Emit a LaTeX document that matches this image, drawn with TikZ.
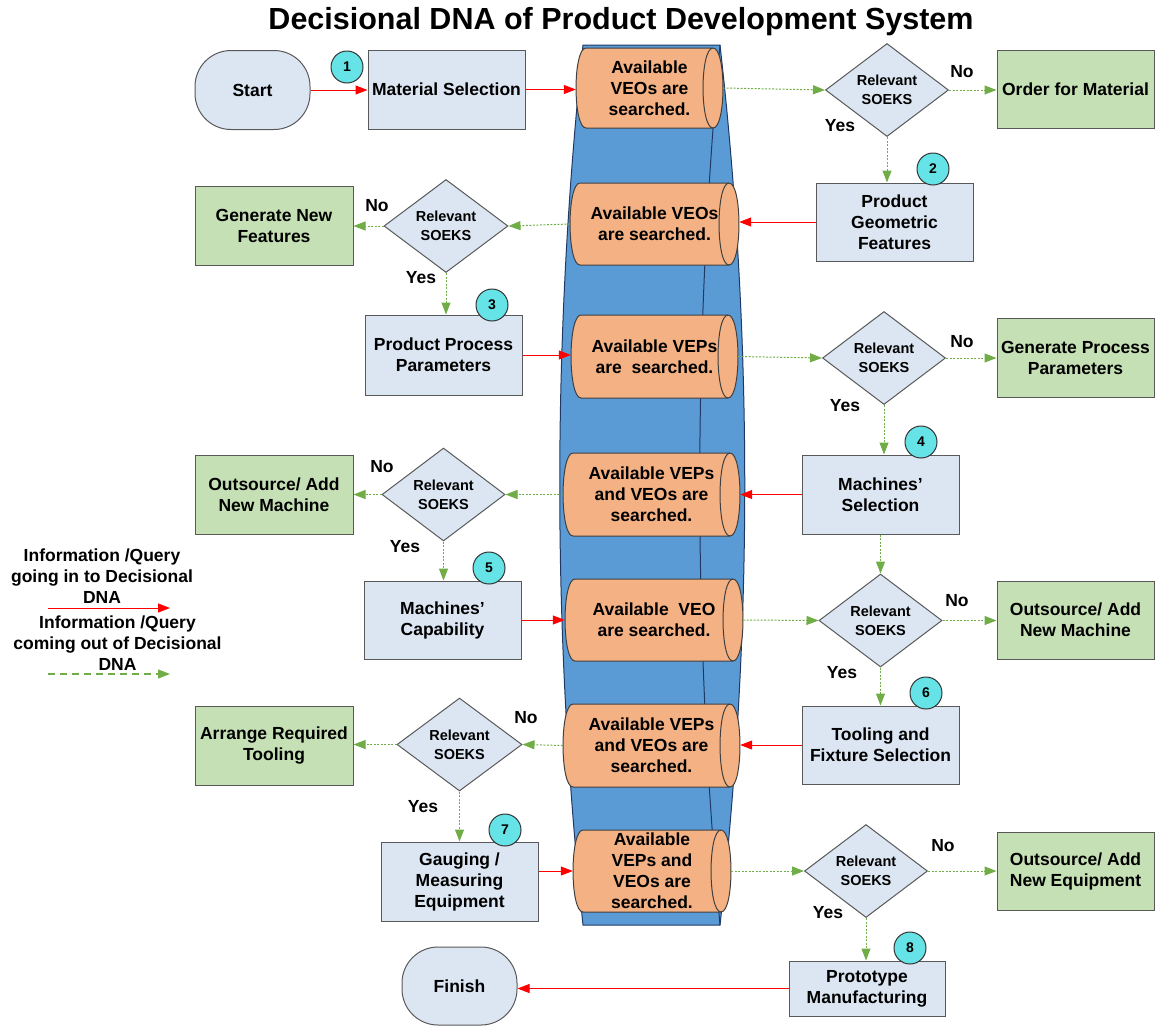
\documentclass[tikz,border=0pt]{standalone}
\usepackage{fontspec}
\setmainfont{Liberation Sans}
\usetikzlibrary{shapes.geometric,arrows.meta}
\definecolor{boxblue}{HTML}{DCE6F2}
\definecolor{boxgreen}{HTML}{C5E0B4}
\definecolor{edgegray}{HTML}{595959}
\definecolor{cylorange}{HTML}{F4B183}
\definecolor{bandblue}{HTML}{5B9BD5}
\definecolor{bandnavy}{HTML}{1F3864}
\definecolor{numcyan}{HTML}{66E3E6}
\definecolor{arrowgreen}{HTML}{70AD47}
\definecolor{arrowred}{HTML}{FF0000}
\newcommand{\fntlbl}{\fontsize{17.5}{21}\selectfont\bfseries}
\newcommand{\fntdia}{\fontsize{14.5}{19}\selectfont\bfseries}
\newcommand{\fntnum}{\fontsize{14}{16}\selectfont\bfseries}
\tikzset{
 pbox/.style={draw=edgegray, fill=boxblue, line width=1pt, minimum width=157pt, minimum height=79pt, align=center, font=\fntlbl, inner sep=1pt},
 gbox/.style={pbox, fill=boxgreen},
 stadium/.style={draw=edgegray, fill=boxblue, line width=1pt, rounded corners=36pt, minimum width=115pt, minimum height=79pt, font=\fntlbl},
 decision/.style={diamond, aspect=1.3, draw=edgegray, fill=boxblue, line width=1pt, minimum width=123pt, minimum height=93pt, inner sep=0pt, align=center, font=\fntdia},
 numdot/.style={circle, draw=black!80, fill=numcyan, line width=1pt, minimum size=32pt, inner sep=0pt, font=\fntnum},
 cylshape/.style={draw=black!75, fill=cylorange, line width=1pt},
 cyltext/.style={align=center, font=\fntlbl, inner sep=0pt},
 yesno/.style={font=\fntlbl, inner sep=0pt},
 inflow/.style={draw=arrowred, line width=1pt, -{Triangle[length=12pt,width=9pt]}},
 outflow/.style={draw=arrowgreen, line width=1pt, dash pattern=on 2pt off 1.5pt, -{Triangle[length=12pt,width=9pt]}},
}
% name, left, top, right, bottom, text
\newcommand{\dnacyl}[6]{%
  \filldraw[cylshape] ({#2+10},#3) -- ({#4-10},#3)
    .. controls ({#4+3.3},#3) and ({#4+3.3},#5) .. ({#4-10},#5)
    -- ({#2+10},#5)
    .. controls ({#2-3.3},#5) and ({#2-3.3},#3) .. ({#2+10},#3) -- cycle;
  \draw[cylshape,fill=none] ({#4-10},#3) .. controls ({#4-23.3},#3) and ({#4-23.3},#5) .. ({#4-10},#5);
  \node[cyltext, minimum width={#4-#2}, minimum height={#5-#3}] (#1) at ({(#2+#4)/2},{(#3+#5)/2}) {#6};
}
\begin{document}
\begin{tikzpicture}[x=1pt,y=-1pt]
\useasboundingbox (0,0) rectangle (1158,1026);

\node[font=\bfseries\fontsize{30.5}{36}\selectfont] (title) at (621,22) {Decisional DNA of Product Development System};

% DNA band
\filldraw[fill=bandblue, draw=bandnavy, line width=1pt] (583,45) -- (720,45) .. controls (753,338) and (753,632) .. (720,925) -- (583,925) .. controls (552,632) and (552,338) .. (583,45) -- cycle;
\draw[draw=bandnavy, line width=1pt] (720,45) .. controls (693,338) and (693,632) .. (720,925);

% cylinders
\dnacyl{cyl1}{576}{48}{723}{128}{Available\\VEOs are\\searched.}
\dnacyl{cyl2}{570}{183}{739}{265}{Available VEOs\\are searched.}
\dnacyl{cyl3}{571}{315}{738}{398}{Available VEPs\\are\ \ searched.}
\dnacyl{cyl4}{563}{453}{740}{536}{Available VEPs\\and VEOs are\\searched.}
\dnacyl{cyl5}{565}{579}{743}{661}{Available\ \ VEO\\are searched.}
\dnacyl{cyl6}{563}{704}{740}{787}{Available VEPs\\and VEOs are\\searched.}
\dnacyl{cyl7}{573}{830}{731}{912}{Available\\VEPs and\\VEOs are\\searched.}

% row 1
\node[stadium] (start) at (252.5,90) {Start};
\node[pbox] (mat) at (446.5,89.5) {Material Selection};
\node[decision] (d1) at (887,90) {Relevant\\SOEKS};
\node[gbox, minimum height=78pt] (order) at (1075.5,89) {Order for Material};
\node[pbox, minimum height=78pt] (pgf) at (894.5,222) {Product\\Geometric\\Features};

% row 2
\node[decision, minimum width=124pt] (d2) at (446,226) {Relevant\\SOEKS};
\node[gbox, minimum width=158pt] (gnf) at (274,225.5) {Generate New\\Features};
\node[pbox, minimum height=80pt] (ppp) at (443.5,355) {Product Process\\Parameters};

% row 3
\node[decision] (d3) at (884,358) {Relevant\\SOEKS};
\node[gbox] (gpp) at (1075.5,357.5) {Generate Process\\Parameters};
\node[pbox] (ms) at (880.5,494.5) {Machines’\\Selection};

% row 4
\node[decision] (d4) at (443.5,494.5) {Relevant\\SOEKS};
\node[gbox, minimum width=158pt] (onm1) at (274,494.5) {Outsource/ Add\\New Machine};
\node[pbox, minimum height=78pt] (mc) at (442.5,620) {Machines’\\Capability};

% row 5
\node[decision] (d5) at (880.5,620.5) {Relevant\\SOEKS};
\node[gbox, minimum height=78pt] (onm2) at (1075.5,620) {Outsource/ Add\\New Machine};
\node[pbox, minimum height=78pt] (tfs) at (880.5,745) {Tooling and\\Fixture Selection};

% row 6
\node[decision, minimum width=125pt] (d6) at (459.5,744.5) {Relevant\\SOEKS};
\node[gbox, minimum width=158pt] (art) at (274,745.5) {Arrange Required\\Tooling};
\node[pbox] (gme) at (459.5,881.5) {Gauging /\\Measuring\\Equipment};

% row 7
\node[decision] (d7) at (866,871) {Relevant\\SOEKS};
\node[gbox, minimum height=78pt] (one) at (1075.5,871) {Outsource/ Add\\New Equipment};
\node[pbox, minimum width=156pt, minimum height=55pt] (proto) at (867,988.5) {Prototype\\Manufacturing};
\node[stadium, minimum height=78pt] (finish) at (459.5,986) {Finish};

% step numbers
\node[numdot] (n1) at (347,67) {1};
\node[numdot] (n2) at (933,169) {2};
\node[numdot] (n3) at (492,305) {3};
\node[numdot] (n4) at (921,442) {4};
\node[numdot] (n5) at (489,568) {5};
\node[numdot] (n6) at (926,693) {6};
\node[numdot] (n7) at (505,830) {7};
\node[numdot] (n8) at (910,948) {8};

% yes / no labels
\node[yesno] (no1) at (962,72) {No};
\node[yesno] (yes1) at (840,126) {Yes};
\node[yesno] (no2) at (377,206) {No};
\node[yesno] (yes2) at (421,278) {Yes};
\node[yesno] (no3) at (962,342) {No};
\node[yesno] (yes3) at (845,406) {Yes};
\node[yesno] (no4) at (382,467) {No};
\node[yesno] (yes4) at (405,547) {Yes};
\node[yesno] (no5) at (957,601) {No};
\node[yesno] (yes5) at (842,673) {Yes};
\node[yesno] (no6) at (526,718) {No};
\node[yesno] (yes6) at (423,807) {Yes};
\node[yesno] (no7) at (943,846) {No};
\node[yesno] (yes7) at (828,913) {Yes};

% red arrows (into DNA)
\draw[inflow] (start.east) -- (start.east -| mat.west);
\draw[inflow] (mat.east) -- (mat.east -| cyl1.west);
\draw[inflow] (pgf.west) -- (pgf.west -| cyl2.east);
\draw[inflow] (ppp.east) -- (ppp.east -| cyl3.west);
\draw[inflow] (ms.west) -- (ms.west -| cyl4.east);
\draw[inflow] (mc.east) -- (mc.east -| cyl5.west);
\draw[inflow] (tfs.west) -- (tfs.west -| cyl6.east);
\draw[inflow] (cyl7.west -| gme.east) -- (cyl7.west);
\draw[inflow] (proto.west) -- (proto.west -| finish.east);

% green arrows (out of DNA)
\draw[outflow] (cyl1.east) -- (d1.west);
\draw[outflow] (d1.east) -- (d1.east -| order.west);
\draw[outflow] (d1.south) -- (d1.south |- pgf.north);
\draw[outflow] (cyl2.west) -- (d2.east);
\draw[outflow] (d2.west) -- (d2.west -| gnf.east);
\draw[outflow] (d2.south) -- (d2.south |- ppp.north);
\draw[outflow] (cyl3.east) -- (d3.west);
\draw[outflow] (d3.east) -- (d3.east -| gpp.west);
\draw[outflow] (d3.south) -- (d3.south |- ms.north);
\draw[outflow] (cyl4.west) -- (d4.east);
\draw[outflow] (d4.west) -- (d4.west -| onm1.east);
\draw[outflow] (d4.south) -- (d4.south |- mc.north);
\draw[outflow] (ms.south) -- (ms.south |- d5.north);
\draw[outflow] (cyl5.east) -- (d5.west);
\draw[outflow] (d5.east) -- (d5.east -| onm2.west);
\draw[outflow] (d5.south) -- (d5.south |- tfs.north);
\draw[outflow] (cyl6.west) -- (d6.east);
\draw[outflow] (d6.west) -- (d6.west -| art.east);
\draw[outflow] (d6.south) -- (d6.south |- gme.north);
\draw[outflow] (cyl7.east) -- (d7.west);
\draw[outflow] (d7.east) -- (d7.east -| one.west);
\draw[outflow] (d7.south) -- (d7.south |- proto.north);

% legend
\node[align=center, font=\fntlbl] (leg1) at (102,576) {Information /Query\\going in to Decisional\\DNA};
\coordinate (lr1) at (48,608);
\coordinate (lr2) at (170,608);
\draw[inflow] (lr1) -- (lr2);
\node[align=center, font=\fntlbl] (leg2) at (117.5,643) {Information /Query\\coming out of Decisional\\DNA};
\coordinate (lg1) at (48,674);
\coordinate (lg2) at (170,674);
\draw[draw=arrowgreen, line width=1.2pt, dash pattern=on 7pt off 5pt, -{Triangle[length=12pt,width=9pt]}] (lg1) -- (lg2);
\end{tikzpicture}
\end{document}
